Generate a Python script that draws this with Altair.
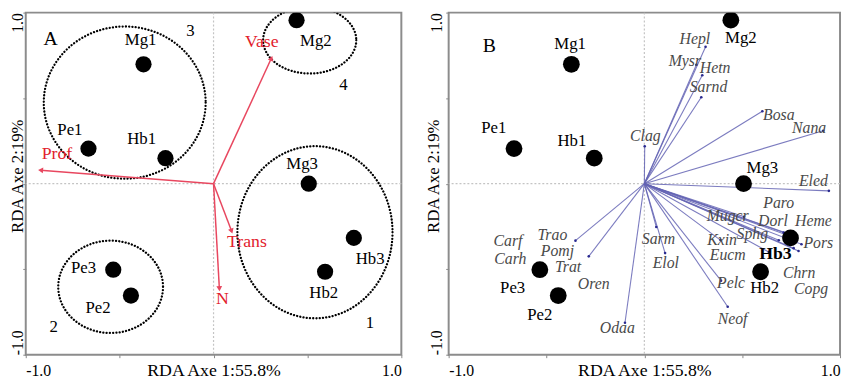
import altair as alt
import pandas as pd

FONT = "Liberation Serif"

# ---------------- data ----------------
sites = ["Mg1", "Mg2", "Pe1", "Hb1", "Mg3", "Hb3", "Hb2", "Pe3", "Pe2"]
site_x = [-0.373, 0.442, -0.666, -0.256, 0.507, 0.747, 0.594, -0.534, -0.440]
site_y = [0.698, 0.956, 0.205, 0.149, 0.0, -0.317, -0.515, -0.503, -0.654]

a_lab_x = [-0.388, 0.545, -0.765, -0.383, 0.472, 0.834, 0.587, -0.692, -0.615]
a_lab_y = [0.839, 0.831, 0.312, 0.260, 0.115, -0.439, -0.639, -0.491, -0.727]
b_lab_x = [-0.379, 0.493, -0.769, -0.370, 0.603, 0.670, 0.615, -0.673, -0.534]
b_lab_y = [0.819, 0.853, 0.326, 0.251, 0.090, -0.410, -0.610, -0.610, -0.766]

env = ["Vase", "Prof", "Trans", "N"]
env_x = [0.308, -0.921, 0.096, 0.031]
env_y = [0.733, 0.079, -0.277, -0.614]
env_lab_x = [0.257, -0.834, 0.178, 0.047]
env_lab_y = [0.825, 0.173, -0.339, -0.675]

groups = ["1", "2", "3", "4"]
group_lab_x = [0.833, -0.851, -0.123, 0.692]
group_lab_y = [-0.813, -0.836, 0.893, 0.576]
ell_cx = [0.540, -0.548, -0.473, 0.512]
ell_cy = [-0.284, -0.603, 0.474, 0.839]
ell_rx = [0.413, 0.279, 0.431, 0.248]
ell_ry = [0.503, 0.270, 0.445, 0.195]

sp_arrow = ["Hepl", "Mysr", "Hetn", "Sarnd", "Bosa", "Nana", "Clag", "Eled",
            "Paro", "Dorl", "Heme", "Mugcr", "Sphg", "Pors", "Kxin", "Eucm",
            "Chrn", "Copg", "Pelc", "Neof", "Sarm", "Elol", "Odaa", "Trao", "Pomj"]
sp_x = [0.313, 0.266, 0.296, 0.291, 0.603, 0.914, 0.002, 0.943,
        0.747, 0.712, 0.778, 0.510, 0.687, 0.803, 0.389, 0.636,
        0.763, 0.788, 0.392, 0.426, 0.061, 0.106, -0.099, -0.352, -0.284]
sp_y = [0.800, 0.695, 0.634, 0.505, 0.423, 0.309, 0.219, -0.042,
        -0.297, -0.286, -0.320, -0.194, -0.331, -0.354, -0.330, -0.400,
        -0.377, -0.394, -0.567, -0.720, -0.253, -0.406, -0.813, -0.333, -0.425]

sp_lab = ["Hepl", "Mysr", "Hetn", "Sarnd", "Bosa", "Nana", "Clag", "Eled",
          "Paro", "Dorl", "Heme", "Mugcr", "Sphg", "Pors", "Kxin", "Eucm",
          "Chrn", "Copg", "Pelc", "Neof", "Sarm", "Elol", "Odaa", "Oren",
          "Trat", "Pomj", "Trao", "Carf", "Carh"]
sp_lab_x = [0.258, 0.207, 0.362, 0.328, 0.687, 0.842, 0.005, 0.864,
            0.687, 0.657, 0.864, 0.426, 0.552, 0.889, 0.397, 0.426,
            0.791, 0.852, 0.443, 0.451, 0.072, 0.110, -0.138, -0.259,
            -0.390, -0.444, -0.470, -0.697, -0.685]
sp_lab_y = [0.847, 0.718, 0.676, 0.562, 0.400, 0.324, 0.276, 0.015,
            -0.114, -0.219, -0.219, -0.187, -0.295, -0.347, -0.328, -0.419,
            -0.524, -0.619, -0.581, -0.790, -0.324, -0.467, -0.847, -0.587,
            -0.486, -0.396, -0.301, -0.333, -0.438]

panel_letters = ["A", "B"]
letter_x = [-0.867, -0.792]
letter_y = [0.847, 0.804]

x_title = "RDA Axe 1:55.8%"
y_title = "RDA Axe 2:19%"

# ---------------- layout ----------------
WA, HA = 381, 347
WB, HB = 397, 347
RED_LINE = "#e8475f"
RED_TEXT = "#e2202c"
BLUE = "#6464b4"
GRAY_TXT = "#4a4a4a"

label_expr = "datum.value == 1 ? '1.0' : (datum.value == -1 ? '-1.0' : '')"
tick_vals = [-1, -0.5, 0, 0.5, 1]


def make_enc(h, ylab_pad, ytitle_x):
    ax_x = alt.Axis(values=tick_vals, labelExpr=label_expr, labelFlush=True,
                    labelFont=FONT, labelFontSize=16, labelColor="black",
                    labelPadding=5, labelBaseline="top",
                    tickSize=3, tickColor="#888", domain=False, grid=False,
                    title=x_title, titleFont=FONT, titleFontSize=18,
                    titleFontWeight="normal", titleColor="black",
                    titleY=21, titleBaseline="alphabetic")
    ax_y = alt.Axis(values=tick_vals, labelExpr=label_expr,
                    labelFont=FONT, labelFontSize=16, labelColor="black",
                    labelAngle=270, labelBaseline="alphabetic",
                    labelAlign={"condition": {"test": "datum.value > 0", "value": "right"},
                                "value": "left"},
                    labelPadding=ylab_pad,
                    tickSize=3, tickColor="#888", domain=False, grid=False,
                    title=y_title, titleFont=FONT, titleFontSize=17,
                    titleFontWeight="normal", titleColor="black",
                    titleAngle=270, titleX=ytitle_x, titleY=h / 2 - 8,
                    titleBaseline="alphabetic", titleAlign="center")
    sx = alt.Scale(domain=[-1, 1], nice=False, zero=False)
    sy = alt.Scale(domain=[-1, 1], nice=False, zero=False)

    def X(f):
        return alt.X(f, type="quantitative", scale=sx, axis=ax_x)

    def Y(f):
        return alt.Y(f, type="quantitative", scale=sy, axis=ax_y)
    return X, Y


def center_lines(X, Y):
    vline = alt.Chart(pd.DataFrame({"x": [0.0]})).mark_rule(
        color="#c4c4c4", strokeDash=[2, 2], strokeWidth=1.2).encode(x=X("x"))
    hline = alt.Chart(pd.DataFrame({"y": [0.0]})).mark_rule(
        color="#c4c4c4", strokeDash=[2, 2], strokeWidth=1.2).encode(y=Y("y"))
    return [vline, hline]


def text_layer(names, xs, ys, X, Y, **kw):
    df = pd.DataFrame({"name": names, "x": xs, "y": ys})
    return alt.Chart(df).mark_text(font=FONT, align="center", baseline="middle", **kw).encode(
        x=X("x"), y=Y("y"), text="name:N")


def sites_layer(X, Y, size):
    df = pd.DataFrame({"name": sites, "x": site_x, "y": site_y})
    return alt.Chart(df).mark_circle(size=size, color="black", opacity=1, clip=True).encode(
        x=X("x"), y=Y("y"))


# ---------------- panel A ----------------
XA, YA = make_enc(HA, 0, -3)
layers_a = center_lines(XA, YA)

c = 0.5523
for cx, cy, rx, ry in zip(ell_cx, ell_cy, ell_rx, ell_ry):
    rxp = rx * WA / 2
    ryp = ry * HA / 2
    k = ryp / rxp
    path = (f"M 1 0 C 1 {c*k:.4f} {c:.4f} {k:.4f} 0 {k:.4f} "
            f"C {-c:.4f} {k:.4f} -1 {c*k:.4f} -1 0 "
            f"C -1 {-c*k:.4f} {-c:.4f} {-k:.4f} 0 {-k:.4f} "
            f"C {c:.4f} {-k:.4f} 1 {-c*k:.4f} 1 0 Z")
    layers_a.append(
        alt.Chart(pd.DataFrame({"x": [cx], "y": [cy]})).mark_point(
            shape=path, size=(2 * rxp) ** 2, filled=False, stroke="black",
            strokeWidth=2.3, strokeDash=[0.1, 3.2], strokeCap="round",
            opacity=1, clip=True).encode(x=XA("x"), y=YA("y")))

env_df = pd.DataFrame({"name": env, "x": env_x, "y": env_y, "ox": [0.0] * 4, "oy": [0.0] * 4})
layers_a.append(alt.Chart(env_df).mark_rule(color=RED_LINE, strokeWidth=1.5).encode(
    x=XA("ox"), y=YA("oy"), x2=alt.X2("x"), y2=alt.Y2("y")))
layers_a.append(alt.Chart(env_df).transform_calculate(
    ang="(atan2(datum.x, datum.y) * 180 / PI + 360) % 360").mark_point(
    shape="triangle-up", size=34, filled=True, color=RED_LINE, opacity=1).encode(
    x=XA("x"), y=YA("y"), angle=alt.Angle("ang:Q", scale=None)))
layers_a.append(sites_layer(XA, YA, 270))
layers_a.append(text_layer(sites, a_lab_x, a_lab_y, XA, YA, fontSize=17, color="black"))
layers_a.append(text_layer(env, env_lab_x, env_lab_y, XA, YA, fontSize=18, color=RED_TEXT))
layers_a.append(text_layer(groups, group_lab_x, group_lab_y, XA, YA, fontSize=17, color="black"))
layers_a.append(text_layer(panel_letters[:1], letter_x[:1], letter_y[:1], XA, YA,
                           fontSize=20, color="black"))
panel_a = alt.layer(*layers_a).properties(width=WA, height=HA)

# ---------------- panel B ----------------
XB, YB = make_enc(HB, 4, -10)
layers_b = center_lines(XB, YB)
sp_df = pd.DataFrame({"name": sp_arrow, "x": sp_x, "y": sp_y,
                      "ox": [0.0] * len(sp_arrow), "oy": [0.0] * len(sp_arrow)})
layers_b.append(alt.Chart(sp_df).mark_rule(color=BLUE, strokeWidth=1.1, opacity=0.85).encode(
    x=XB("ox"), y=YB("oy"), x2=alt.X2("x"), y2=alt.Y2("y")))
layers_b.append(alt.Chart(sp_df).mark_circle(size=7, color="#2a2a90", opacity=1).encode(
    x=XB("x"), y=YB("y")))
layers_b.append(sites_layer(XB, YB, 290))
hb3 = [n == "Hb3" for n in sites]
layers_b.append(text_layer([n for n, h in zip(sites, hb3) if not h],
                           [v for v, h in zip(b_lab_x, hb3) if not h],
                           [v for v, h in zip(b_lab_y, hb3) if not h],
                           XB, YB, fontSize=17, color="black"))
layers_b.append(text_layer([n for n, h in zip(sites, hb3) if h],
                           [v for v, h in zip(b_lab_x, hb3) if h],
                           [v for v, h in zip(b_lab_y, hb3) if h],
                           XB, YB, fontSize=18, color="black", fontWeight="bold"))
layers_b.append(text_layer(sp_lab, sp_lab_x, sp_lab_y, XB, YB, fontSize=16,
                           color=GRAY_TXT, fontStyle="italic"))
layers_b.append(text_layer(panel_letters[1:], letter_x[1:], letter_y[1:], XB, YB,
                           fontSize=20, color="black"))
panel_b = alt.layer(*layers_b).properties(width=WB, height=HB)

chart = alt.hconcat(panel_a, panel_b, spacing=21).properties(padding=0).configure_view(
    stroke="#8c8c8c", strokeWidth=2)

chart.save("out.html", embed_options={"renderer": "svg", "actions": False})
